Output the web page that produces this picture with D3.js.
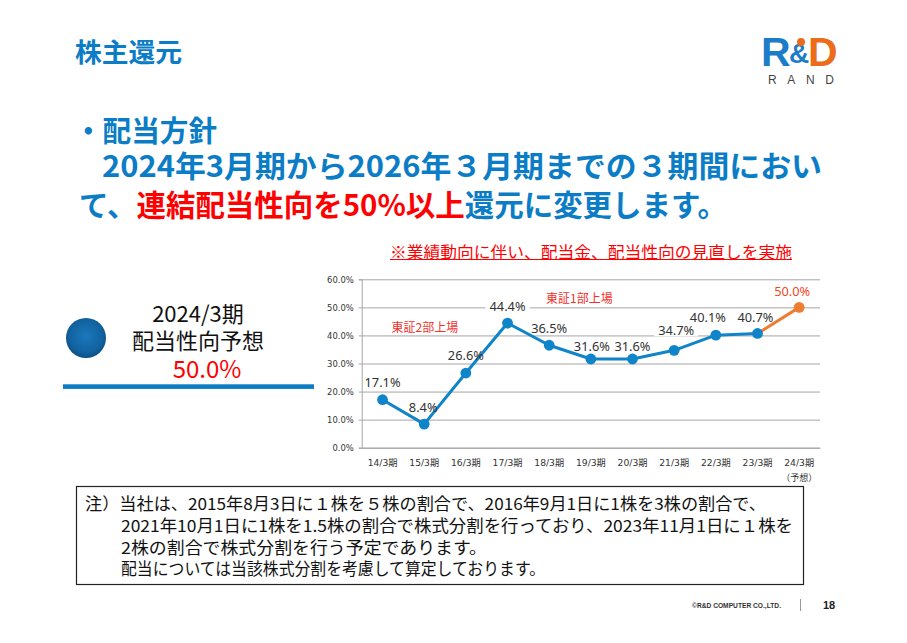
<!DOCTYPE html>
<html><head><meta charset="utf-8">
<script src="https://cdn.jsdelivr.net/npm/d3@7"></script>
<style>body{margin:0;background:#fff}svg{display:block}</style>
</head><body>
<svg id="c" width="907" height="643"></svg>
<script>
// ---------- data ----------
const categories = ["14/3期","15/3期","16/3期","17/3期","18/3期","19/3期","20/3期","21/3期","22/3期","23/3期","24/3期"];
const payoutRatio = [17.1, 8.4, 26.6, 44.4, 36.5, 31.6, 31.6, 34.7, 40.1, 40.7, 50.0];
const forecastFlags = [false,false,false,false,false,false,false,false,false,false,true];
const yTicks = [0, 10, 20, 30, 40, 50, 60];
const forecastNote = "（予想）";
const listingNotes = ["東証2部上場", "東証1部上場"];
const pageTitle = "株主還元";
const policyHead = "・配当方針";
const policyLine2 = "2024年3月期から2026年３月期までの３期間におい";
const policyLine3 = [["て、", "blue"], ["連結配当性向を50%以上", "red"], ["還元に変更します。", "blue"]];
const chartNote = "※業績動向に伴い、配当金、配当性向の見直しを実施";
const sideLines = ["2024/3期", "配当性向予想", "50.0%"];
const footnote = [
  "注）当社は、2015年8月3日に１株を５株の割合で、2016年9月1日に1株を3株の割合で、",
  "2021年10月1日に1株を1.5株の割合で株式分割を行っており、2023年11月1日に１株を",
  "2株の割合で株式分割を行う予定であります。",
  "配当については当該株式分割を考慮して算定しております。"
];

// ---------- layout / style ----------
const BLUE = "#0b7dc6", RED = "#ff0000", LINE_BLUE = "#0f84c8", ORANGE = "#ed7d31";
const JP = "'Noto Sans CJK JP','Noto Sans',sans-serif";
// label offsets (dx, dy) relative to each marker
const labelOffsets = [[0,-18],[-1,-17],[0,-18],[0,-17],[0,-17],[1,-13],[0,-13],[2,-20],[-8,-18],[-2,-16],[-7,-16]];

const svg = d3.select("#c");

// title
svg.append("text").attr("x", 75).attr("y", 50).attr("dominant-baseline", "central")
  .attr("font-family", JP).attr("font-weight", 700).attr("font-size", 26.5).attr("fill", BLUE)
  .attr("textLength", 107).attr("lengthAdjust", "spacingAndGlyphs").text(pageTitle);

// logo
const logo = svg.append("g").attr("font-family", "'Liberation Sans',Arial,sans-serif").attr("font-weight", 700);
logo.append("text").attr("x", 761).attr("y", 66).attr("font-size", 41).attr("fill", "#1b7cc8").text("R");
logo.append("text").attr("x", 789).attr("y", 63).attr("font-size", 28).attr("fill", "#1b7cc8").text("&");
logo.append("circle").attr("cx", 801).attr("cy", 42).attr("r", 4).attr("fill", "#ec6c1c");
logo.append("text").attr("x", 808).attr("y", 66).attr("font-size", 41).attr("fill", "#ec6c1c").text("D");
logo.append("text").attr("x", 768).attr("y", 83.5).attr("font-size", 12).attr("font-weight", 400)
  .attr("fill", "#444").attr("textLength", 66).attr("lengthAdjust", "spacing").text("RAND");

// policy text
const pol = svg.append("g").attr("font-family", JP).attr("font-weight", 700).attr("fill", BLUE);
pol.append("text").attr("x", 74).attr("y", 129).attr("dominant-baseline", "central")
  .attr("font-size", 29).attr("textLength", 143).attr("lengthAdjust", "spacingAndGlyphs").text(policyHead);
pol.append("text").attr("x", 102).attr("y", 164).attr("dominant-baseline", "central")
  .attr("font-size", 29.5).attr("textLength", 720).attr("lengthAdjust", "spacingAndGlyphs").text(policyLine2);
const l3 = pol.append("text").attr("x", 79).attr("y", 202.5).attr("dominant-baseline", "central")
  .attr("font-size", 29.5).attr("textLength", 648).attr("lengthAdjust", "spacingAndGlyphs");
policyLine3.forEach(([t, c]) => l3.append("tspan").attr("fill", c === "red" ? RED : BLUE).text(t));

// chart note (red underlined)
svg.append("text").attr("x", 390).attr("y", 250.5).attr("dominant-baseline", "central")
  .attr("font-family", JP).attr("font-size", 16).attr("fill", RED)
  .attr("textLength", 402).attr("lengthAdjust", "spacingAndGlyphs").text(chartNote);
svg.append("line").attr("x1", 390).attr("x2", 792).attr("y1", 259.5).attr("y2", 259.5)
  .attr("stroke", RED).attr("stroke-width", 1);

// side panel
const grad = svg.append("defs").append("radialGradient").attr("id", "ball").attr("cx", "50%").attr("cy", "45%").attr("r", "55%");
grad.append("stop").attr("offset", "0%").attr("stop-color", "#1c78bd");
grad.append("stop").attr("offset", "75%").attr("stop-color", "#11629f");
grad.append("stop").attr("offset", "100%").attr("stop-color", "#0e4f86");
svg.append("circle").attr("cx", 86).attr("cy", 338).attr("r", 20).attr("fill", "url(#ball)");
const side = svg.append("g").attr("font-family", JP).attr("text-anchor", "middle").attr("dominant-baseline", "central");
side.append("text").attr("x", 198).attr("y", 312).attr("font-size", 22).attr("fill", "#111").text(sideLines[0]);
side.append("text").attr("x", 198).attr("y", 339).attr("font-size", 22).attr("fill", "#111").text(sideLines[1]);
side.append("text").attr("x", 207).attr("y", 367).attr("font-size", 24).attr("fill", RED).text(sideLines[2]);
svg.append("rect").attr("x", 63).attr("y", 384.3).attr("width", 251).attr("height", 4.6).attr("fill", "#0a7cc6");

// ---------- chart ----------
const x = d3.scaleBand().domain(categories).range([361.7, 820]).padding(0);
const y = d3.scaleLinear().domain([0, 60]).range([447.7, 279.3]);
const cx = c => x(c) + x.bandwidth() / 2;

// gridlines
svg.append("g").attr("transform", "translate(361.7,0)")
  .call(d3.axisLeft(y).tickValues(yTicks).tickSize(-(820 - 361.7)).tickFormat(""))
  .call(g => g.select(".domain").remove())
  .call(g => g.selectAll("line").attr("stroke", "#a6a6a6").attr("stroke-width", 1));

// y axis
svg.append("g").attr("transform", "translate(361.7,0)")
  .call(d3.axisLeft(y).tickValues(yTicks).tickSize(3).tickPadding(5).tickFormat(d => d.toFixed(1) + "%"))
  .call(g => g.select(".domain").attr("stroke", "#a6a6a6"))
  .call(g => g.selectAll("line").attr("stroke", "#a6a6a6"))
  .call(g => g.selectAll("text").attr("font-family", "'DejaVu Sans',sans-serif").attr("font-size", 8.4).attr("fill", "#333"));

// x axis
svg.append("g").attr("transform", "translate(0,447.7)")
  .call(d3.axisBottom(x).tickSize(0).tickPadding(0))
  .call(g => g.select(".domain").attr("stroke", "#a6a6a6"))
  .call(g => g.selectAll("text").attr("y", 14.8).attr("dy", null).attr("dominant-baseline", "central")
    .attr("font-family", "'DejaVu Sans','Noto Sans CJK JP',sans-serif").attr("font-size", 9.2).attr("fill", "#333"));
categories.forEach((c, i) => {
  if (forecastFlags[i]) {
    svg.append("text").attr("x", cx(c)).attr("y", 477.5).attr("text-anchor", "middle").attr("dominant-baseline", "central")
      .attr("font-family", JP).attr("font-size", 9).attr("fill", "#333").text(forecastNote);
  }
});

// listing annotations
const ann = svg.append("g").attr("font-family", JP).attr("font-size", 12).attr("fill", "#f5302a").attr("dominant-baseline", "central");
ann.append("text").attr("x", 391.5).attr("y", 326.5).text(listingNotes[0]);
ann.append("text").attr("x", 546).attr("y", 297).text(listingNotes[1]);

const pts = categories.map((c, i) => ({c, v: payoutRatio[i], f: forecastFlags[i], i}));

// labels
const labelFont = "'Noto Sans','DejaVu Sans',sans-serif";
const lblG = svg.append("g");
const labels = lblG.selectAll("text").data(pts).join("text")
  .attr("x", d => cx(d.c) + labelOffsets[d.i][0])
  .attr("y", d => y(d.v) + labelOffsets[d.i][1])
  .attr("text-anchor", "middle").attr("dominant-baseline", "central")
  .attr("font-family", labelFont).attr("font-size", 12.8)
  .attr("fill", d => d.f ? "#f5461e" : "#333")
  .text(d => d.v.toFixed(1) + "%");
// white background where a label crosses a gridline
labels.each(function (d) {
  const b = this.getBBox();
  const crosses = yTicks.some(t => { const gy = y(t); return gy > b.y + 3 && gy < b.y + b.height - 3; });
  if (crosses) {
    svg.insert("rect", () => lblG.node()).attr("x", b.x - 4).attr("y", b.y + 3).attr("width", b.width + 8)
      .attr("height", b.height - 6).attr("fill", "#fff");
  }
});

// line segments + markers
const seg = svg.insert("g", () => lblG.node());
for (let i = 1; i < pts.length; i++) {
  const a = pts[i - 1], b = pts[i];
  seg.append("line").attr("x1", cx(a.c)).attr("y1", y(a.v)).attr("x2", cx(b.c)).attr("y2", y(b.v))
    .attr("stroke", b.f ? ORANGE : LINE_BLUE).attr("stroke-width", 3).attr("stroke-linecap", "round");
}
seg.selectAll("circle").data(pts).join("circle")
  .attr("cx", d => cx(d.c)).attr("cy", d => y(d.v)).attr("r", 5.4)
  .attr("fill", d => d.f ? ORANGE : LINE_BLUE);

// ---------- footnote box ----------
svg.append("rect").attr("x", 76.5).attr("y", 486.5).attr("width", 727).attr("height", 98)
  .attr("fill", "none").attr("stroke", "#222").attr("stroke-width", 1.2);
const fnX = [85, 121, 121, 121], fnY = [503, 525, 547, 568], fnW = [681, 672, 366, 424];
footnote.forEach((t, i) => {
  svg.append("text").attr("x", fnX[i]).attr("y", fnY[i]).attr("dominant-baseline", "central")
    .attr("font-family", JP).attr("font-size", 16.5).attr("fill", "#111")
    .attr("textLength", fnW[i]).attr("lengthAdjust", "spacingAndGlyphs").text(t);
});

// footer
svg.append("text").attr("x", 692).attr("y", 605).attr("dominant-baseline", "central")
  .attr("font-family", "'Liberation Sans',Arial,sans-serif").attr("font-weight", 700).attr("font-size", 7)
  .attr("fill", "#333").attr("textLength", 89).attr("lengthAdjust", "spacingAndGlyphs").text("©R&D COMPUTER CO.,LTD.");
svg.append("line").attr("x1", 800.5).attr("x2", 800.5).attr("y1", 599).attr("y2", 611).attr("stroke", "#999");
svg.append("text").attr("x", 823).attr("y", 605).attr("dominant-baseline", "central")
  .attr("font-family", "'Liberation Sans',Arial,sans-serif").attr("font-weight", 700).attr("font-size", 11)
  .attr("fill", "#222").text("18");
</script>
</body></html>
